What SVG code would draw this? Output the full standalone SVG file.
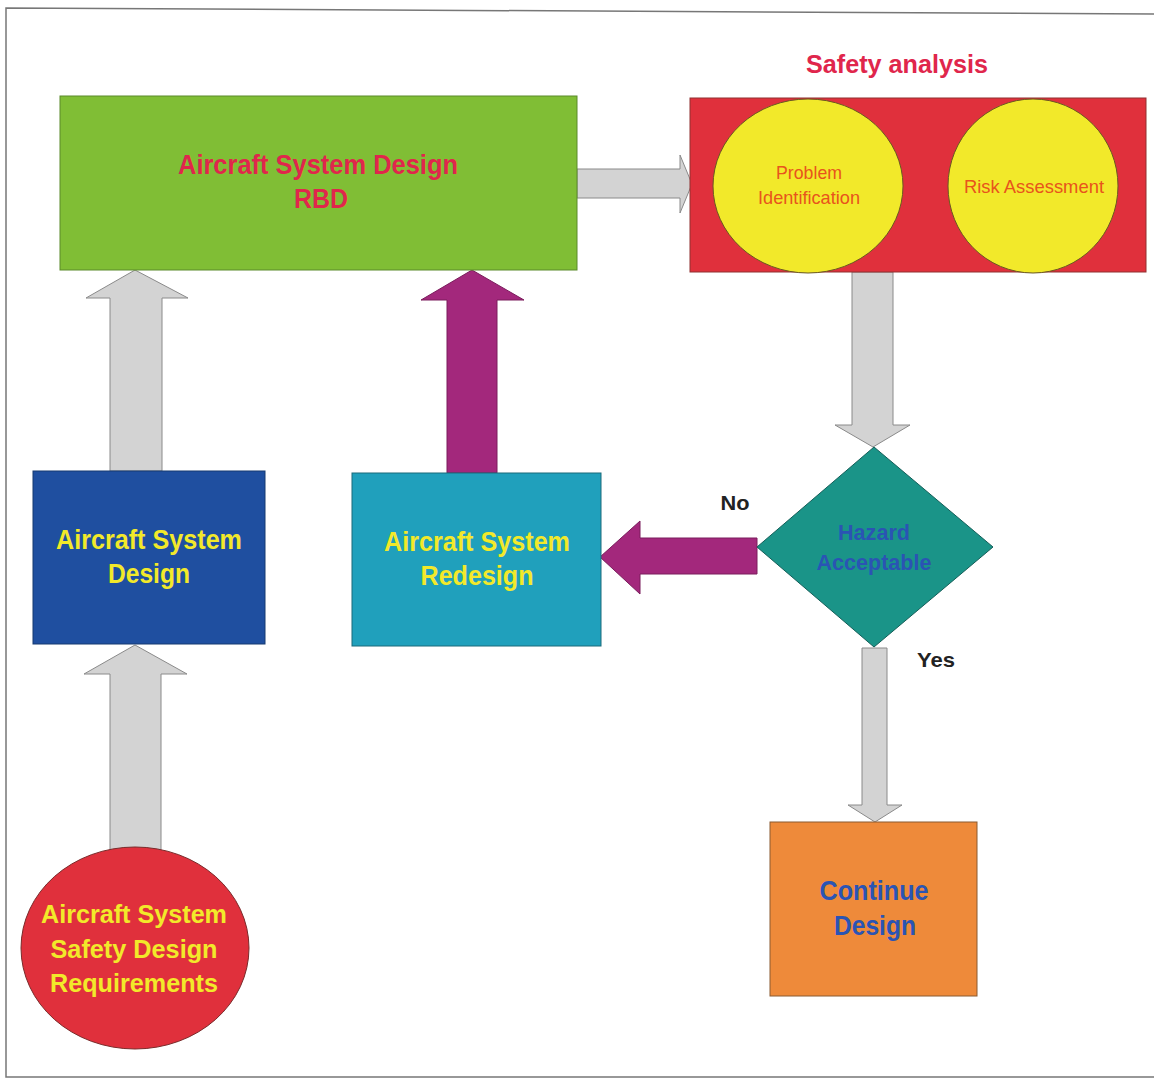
<svg xmlns="http://www.w3.org/2000/svg" width="1154" height="1079" viewBox="0 0 1154 1079">
<style>
.t{font-family:"Liberation Sans",Arial,sans-serif;font-weight:bold;text-anchor:middle}
.n{font-family:"Liberation Sans",Arial,sans-serif;text-anchor:middle}
.g{fill:#d3d3d3;stroke:#8a8a8a;stroke-width:1}
.m{fill:#a3287c;stroke:#7a1c5c;stroke-width:1}
.y{fill:#f2e92a}
</style>
<rect width="1154" height="1079" fill="#ffffff"/>
<path d="M1154 14 L6 8 L6 1077 L1154 1077" fill="none" stroke="#777" stroke-width="1.5"/>
<text class="t" x="897" y="73" font-size="26" fill="#e0264c" textLength="182" lengthAdjust="spacingAndGlyphs">Safety analysis</text>
<g id="connectors">
<path class="g" d="M577 169 L680 169 L680 155 L692 184 L680 213 L680 198 L577 198 Z"/>
<path class="g" d="M852 272 L893 272 L893 425 L910 425 L873 447 L835 425 L852 425 Z"/>
<path class="m" d="M757 538 L640 538 L640 521 L600 557 L640 594 L640 574 L757 574 Z"/>
<path class="g" d="M862 648 L887 648 L887 805 L902 805 L875 822 L848 805 L862 805 Z"/>
<path class="m" d="M447 473 L447 300 L421 300 L472 270 L524 300 L497 300 L497 473 Z"/>
<path class="g" d="M110 471 L110 298 L86 298 L135 270 L188 298 L162 298 L162 471 Z"/>
<path class="g" d="M110 850 L110 674 L84 674 L135 645 L187 674 L161 674 L161 850 Z"/>
<text class="t" x="735" y="510" font-size="21" fill="#222" textLength="29" lengthAdjust="spacingAndGlyphs">No</text>
<text class="t" x="936" y="667" font-size="21" fill="#222" textLength="38" lengthAdjust="spacingAndGlyphs">Yes</text>
</g>
<g id="rbd">
<rect x="60" y="96" width="517" height="174" fill="#80be35" stroke="#5a8a2a" stroke-width="1"/>
<text class="t" x="318" y="174" font-size="27" fill="#e0264c" textLength="280" lengthAdjust="spacingAndGlyphs">Aircraft System Design</text>
<text class="t" x="321" y="208" font-size="27" fill="#e0264c" textLength="54" lengthAdjust="spacingAndGlyphs">RBD</text>
</g>
<g id="safety">
<rect x="690" y="98" width="456" height="174" fill="#e0303c" stroke="#903030" stroke-width="1"/>
<ellipse class="y" cx="808" cy="186" rx="95" ry="87" stroke="#6a5a20" stroke-width="1"/>
<text class="n" x="809" y="179" font-size="19" fill="#e8541c" textLength="66" lengthAdjust="spacingAndGlyphs">Problem</text>
<text class="n" x="809" y="204" font-size="19" fill="#e8541c" textLength="102" lengthAdjust="spacingAndGlyphs">Identification</text>
<ellipse class="y" cx="1033" cy="186" rx="85" ry="87" stroke="#6a5a20" stroke-width="1"/>
<text class="n" x="1034" y="193" font-size="19" fill="#e8541c" textLength="140" lengthAdjust="spacingAndGlyphs">Risk Assessment</text>
</g>
<g id="hazard">
<path d="M874 447 L993 547 L874 647 L757 547 Z" fill="#1a9488" stroke="#145e58" stroke-width="1"/>
<text class="t" x="874" y="540" font-size="22" fill="#2a54b4" textLength="72" lengthAdjust="spacingAndGlyphs">Hazard</text>
<text class="t" x="874" y="570" font-size="22" fill="#2a54b4" textLength="115" lengthAdjust="spacingAndGlyphs">Acceptable</text>
</g>
<g id="design">
<rect x="33" y="471" width="232" height="173" fill="#1f4fa0" stroke="#173a70" stroke-width="1"/>
<text class="t" x="149" y="549" font-size="27" fill="#f2e92a" textLength="186" lengthAdjust="spacingAndGlyphs">Aircraft System</text>
<text class="t" x="149" y="583" font-size="27" fill="#f2e92a" textLength="82" lengthAdjust="spacingAndGlyphs">Design</text>
</g>
<g id="redesign">
<rect x="352" y="473" width="249" height="173" fill="#20a0bc" stroke="#1a6a7a" stroke-width="1"/>
<text class="t" x="477" y="551" font-size="27" fill="#f2e92a" textLength="186" lengthAdjust="spacingAndGlyphs">Aircraft System</text>
<text class="t" x="477" y="585" font-size="27" fill="#f2e92a" textLength="113" lengthAdjust="spacingAndGlyphs">Redesign</text>
</g>
<g id="continue">
<rect x="770" y="822" width="207" height="174" fill="#ee8a3a" stroke="#8a5a30" stroke-width="1"/>
<text class="t" x="874" y="900" font-size="27" fill="#2a54b4" textLength="109" lengthAdjust="spacingAndGlyphs">Continue</text>
<text class="t" x="875" y="935" font-size="27" fill="#2a54b4" textLength="82" lengthAdjust="spacingAndGlyphs">Design</text>
</g>
<g id="requirements">
<ellipse cx="135" cy="948" rx="114" ry="101" fill="#e0303c" stroke="#7a2a2a" stroke-width="1"/>
<text class="t" x="134" y="923" font-size="26" fill="#f2e92a" textLength="186" lengthAdjust="spacingAndGlyphs">Aircraft System</text>
<text class="t" x="134" y="958" font-size="26" fill="#f2e92a" textLength="167" lengthAdjust="spacingAndGlyphs">Safety Design</text>
<text class="t" x="134" y="992" font-size="26" fill="#f2e92a" textLength="168" lengthAdjust="spacingAndGlyphs">Requirements</text>
</g>
</svg>
